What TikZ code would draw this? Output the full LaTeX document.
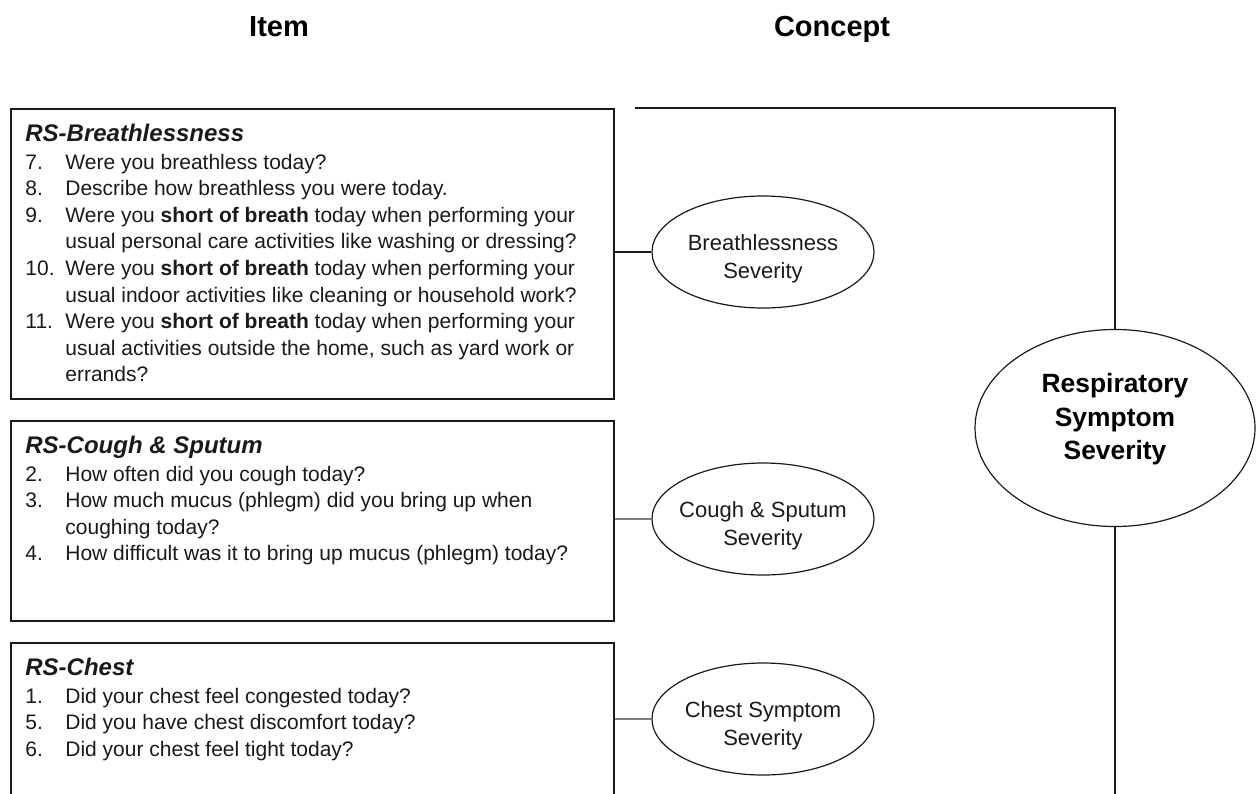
\documentclass[tikz,border=0pt]{standalone}
\usepackage{fontspec}
\setmainfont{Liberation Sans}
\usepackage{array}
\usepackage{tikz}
\usetikzlibrary{shapes.geometric,calc}
\definecolor{ink}{HTML}{1A1A1A}
\definecolor{wire}{HTML}{7A7A7A}
\newcommand{\qhead}[1]{\multicolumn{2}{@{}l@{}}{\fontsize{12}{13.3}\selectfont\bfseries\itshape #1}\\[0.7pt]}

\begin{document}
\begin{tikzpicture}[x=0.5pt,y=-0.5pt,
  itembox/.style={draw=ink,line width=0.8pt,minimum width=301.5pt,inner sep=0pt,anchor=north west},
  itemtext/.style={anchor=north west,inner sep=0pt,font=\fontsize{10.5}{13.3}\selectfont,text=ink},
  concept/.style={ellipse,draw=ink,line width=0.6pt,minimum width=111pt,minimum height=56pt,inner sep=0pt},
  conceptlabel/.style={font=\fontsize{11}{14}\selectfont,align=center,text=ink,inner sep=0pt},
  header/.style={font=\fontsize{14.5}{17}\selectfont\bfseries,anchor=base,inner sep=0pt}]
  \clip (0,0) rectangle (1256,793);
  % headers
  \node[header] (itemhead) at (279,36) {Item};
  \node[header] (concepthead) at (832,36) {Concept};
  % item boxes
  \node[itembox,minimum height=145pt] (box1) at (10,108) {};
  \node[itembox,minimum height=100pt] (box2) at (10,420) {};
  \node[itembox,minimum height=100pt] (box3) at (10,642) {};
  \node[itemtext] (breathitems) at ([shift={(15,14)}]box1.north west) {\begin{tabular}{@{}p{20pt}@{}l@{}}
    \qhead{RS-Breathlessness}
    7. & Were you breathless today?\\
    8. & Describe how breathless you were today.\\
    9. & Were you \textbf{short of breath} today when performing your\\
       & usual personal care activities like washing or dressing?\\
    10. & Were you \textbf{short of breath} today when performing your\\
        & usual indoor activities like cleaning or household work?\\
    11. & Were you \textbf{short of breath} today when performing your\\
        & usual activities outside the home, such as yard work or\\
        & errands?
  \end{tabular}};
  \node[itemtext] (coughitems) at ([shift={(15,14)}]box2.north west) {\begin{tabular}{@{}p{20pt}@{}l@{}}
    \qhead{RS-Cough \& Sputum}
    2. & How often did you cough today?\\
    3. & How much mucus (phlegm) did you bring up when\\
       & coughing today?\\
    4. & How difficult was it to bring up mucus (phlegm) today?
  \end{tabular}};
  \node[itemtext] (chestitems) at ([shift={(15,14)}]box3.north west) {\begin{tabular}{@{}p{20pt}@{}l@{}}
    \qhead{RS-Chest}
    1. & Did your chest feel congested today?\\
    5. & Did you have chest discomfort today?\\
    6. & Did your chest feel tight today?
  \end{tabular}};
  % domain concepts
  \foreach \nm/\bx/\y/\c/\lab in {breath/box1/252/ink/{Breathlessness\\Severity},cough/box2/519/wire/{Cough \& Sputum\\Severity},chest/box3/719/wire/{Chest Symptom\\Severity}}{
    \node[concept] (\nm) at (763,\y) {};
    \node[conceptlabel,yshift=-3.5pt] (\nm label) at (\nm.center) {\lab};
    \draw[\c,line width=0.7pt] (\nm.west) -- (\nm.west -| \bx.east);}
  % overall concept
  \node[ellipse,draw=ink,line width=0.6pt,minimum width=140pt,minimum height=98.5pt,inner sep=0pt] (resp) at (1115,428) {};
  \node[font=\fontsize{13.2}{16.75}\selectfont\bfseries,align=center,inner sep=0pt,yshift=4.4pt] (resplabel) at (resp.center) {Respiratory\\Symptom\\Severity};
  \coordinate (topstart) at ([xshift=10pt]box1.north east);
  \coordinate (bottomend) at (1115,800);
  \draw[ink,line width=0.7pt] (topstart) -| (resp.north);
  \draw[ink,line width=0.7pt] (resp.south) -- (resp.south |- bottomend);
\end{tikzpicture}
\end{document}
